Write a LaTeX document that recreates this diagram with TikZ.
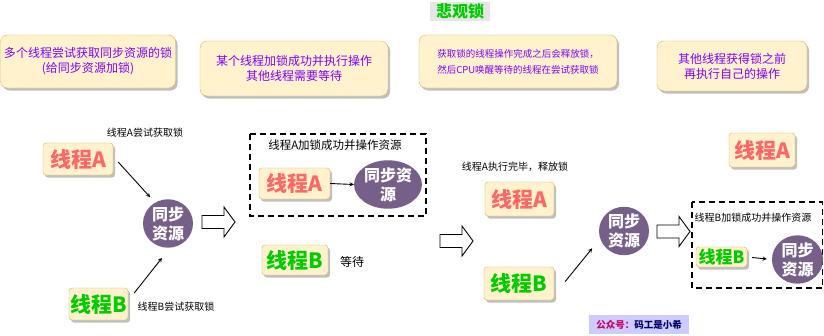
\documentclass[tikz,border=0pt]{standalone}
\usepackage{fontspec}
\setmainfont{Noto Sans CJK SC}
\usepackage{xcolor}
\usepackage{tikz}
\usetikzlibrary{shapes.geometric, shadows}
\definecolor{notefill}{HTML}{FFF2CC}
\definecolor{notedraw}{HTML}{D6B656}
\definecolor{notetext}{HTML}{7F00FF}
\definecolor{thrA}{HTML}{FF6666}
\definecolor{thrB}{HTML}{00CC00}
\definecolor{resfill}{HTML}{76608A}
\definecolor{titlegrey}{HTML}{E6E6E6}
\definecolor{wmfill}{HTML}{CCCCFF}
\definecolor{wmpink}{HTML}{CC0066}
\definecolor{wmblue}{HTML}{000066}
\tikzset{every node/.append style={font=\fontsize{10}{12}\selectfont}}
\tikzset{
  softshadow/.style={drop shadow={shadow xshift=2pt, shadow yshift=-2.5pt, opacity=0.25, fill=black}},
  note/.style={draw=notedraw, fill=notefill, rounded corners=7pt, softshadow, text=notetext,
    align=center, inner sep=0pt, font=\fontsize{12}{15}\selectfont},
  thread/.style={draw=notedraw, fill=notefill, rounded corners=3pt, softshadow, inner sep=0pt,
    font=\bfseries\fontsize{21}{23}\selectfont},
  res/.style={ellipse, fill=resfill, text=white, align=center, inner sep=0pt,
    font=\bfseries\fontsize{16}{19}\selectfont},
  lockbox/.style={draw, line width=1.6pt, dash pattern=on 6pt off 4pt},
  pics/fatarrow/.style={code={
    \draw[line width=0.9pt, fill=white] (0,-6.5) -- (22,-6.5) -- (22,-15) -- (33,0) -- (22,15) -- (22,6.5) -- (0,6.5) -- cycle;}}
}

\begin{document}
\begin{tikzpicture}[x=1pt, y=-1pt, >=stealth]
    \useasboundingbox[fill=white] (0,0) rectangle (824,335);
    % title and notes
    \node[fill=titlegrey, text=thrB, minimum width=60, minimum height=19, inner sep=0pt,
      font=\bfseries\fontsize{16}{18}\selectfont] (title) at (460,11) {悲观锁};
    \node[note, minimum width=175, minimum height=53] (note1) at (88,61.5) {多个线程尝试获取同步资源的锁\\(给同步资源加锁)};
    \node[note, minimum width=188, minimum height=55] (note2) at (294,68.5) {某个线程加锁成功并执行操作\\其他线程需要等待};
    \node[note, minimum width=198, minimum height=53, align=left, font=\fontsize{9.5}{16}\selectfont] (note3) at (518,61.5) {获取锁的线程操作完成之后会释放锁，\\然后CPU唤醒等待的线程在尝试获取锁};
    \node[note, minimum width=150, minimum height=50] (note4) at (732,66) {其他线程获得锁之前\\再执行自己的操作};

    % step 1
    \node (tryA) at (145,133) {线程A尝试获取锁};
    \node[thread, text=thrA, minimum width=70, minimum height=32] (thA1) at (78,159) {线程A};
    \node[res, minimum width=50, minimum height=43] (res1) at (168,223.5) {同步\\资源};
    \node[thread, text=thrB, minimum width=59, minimum height=32] (thB1) at (98.5,304) {线程B};
    \node (tryB) at (176,307) {线程B尝试获取锁};
    \draw[->, line width=0.9pt] ([xshift=5pt, yshift=-3pt]thA1.east) -- ([yshift=9pt]res1.north west);
    \draw[->, line width=0.9pt] ([xshift=6pt, yshift=11pt]thB1.east) -- ([xshift=-6pt, yshift=-10pt]res1.south);
    \pic at (202,222) {fatarrow};

    % step 2
    \draw[lockbox] (250,134) rectangle (426,216);
    \node[font=\fontsize{11.5}{14}\selectfont] (lockA) at (335,145) {线程A加锁成功并操作资源};
    \node[thread, text=thrA, minimum width=71, minimum height=31] (thA2) at (294.5,183.5) {线程A};
    \node[res, minimum width=62, minimum height=39] (res2) at (388,184.5) {同步资\\源};
    \draw[->, line width=0.9pt] (thA2.east) -- (res2.west);
    \node[thread, text=thrB, minimum width=66, minimum height=30] (thB2) at (295,260) {线程B};
    \node[font=\fontsize{12}{14}\selectfont] (wait) at (352,262) {等待};
    \pic at (440,241) {fatarrow};

    % step 3
    \node (relA) at (515,167) {线程A执行完毕，释放锁};
    \node[thread, text=thrA, minimum width=69, minimum height=34] (thA3) at (519.5,199) {线程A};
    \node[thread, text=thrB, minimum width=70, minimum height=33] (thB3) at (519,283.5) {线程B};
    \node[res, minimum width=50, minimum height=42] (res3) at (624,231) {同步\\资源};
    \draw[->, line width=0.9pt] ([xshift=11pt, yshift=2pt]thB3.east) -- ([xshift=-14pt]res3.south west);
    \pic at (657,231.5) {fatarrow};

    % step 4
    \node[thread, text=thrA, minimum width=66, minimum height=34] (thA4) at (762,150) {线程A};
    \draw[lockbox] (692,202) rectangle (822.5,288);
    \node (lockB) at (753,218) {线程B加锁成功并操作资源};
    \node[thread, text=thrB, minimum width=51, minimum height=20, font=\bfseries\fontsize{17}{19}\selectfont] (thB4) at (721.5,257) {线程B};
    \node[res, minimum width=51, minimum height=43] (res4) at (797.5,259.5) {同步\\资源};
    \draw[->, line width=0.9pt, shorten <=5pt, shorten >=5pt] (thB4.east) -- (res4.west);

    % watermark
    \node[fill=wmfill, minimum width=100, minimum height=19, inner sep=0pt,
      font=\bfseries\fontsize{9.5}{11}\selectfont] (wm) at (639,324.5) {\textcolor{wmpink}{公众号：}\textcolor{wmblue}{码工是小希}};
\end{tikzpicture}
\end{document}
